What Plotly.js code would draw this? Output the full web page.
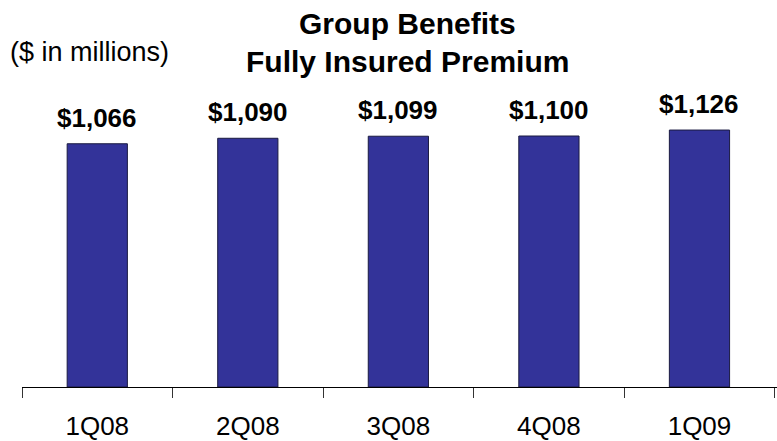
<!DOCTYPE html>
<html>
<head>
<meta charset="utf-8">
<script src="https://cdn.plot.ly/plotly-3.0.1.min.js"></script>
<style>html,body{margin:0;padding:0;background:#fff;}#chart{width:777px;height:441px;}</style>
</head>
<body>
<div id="chart"></div>
<script>
const categories = ["1Q08", "2Q08", "3Q08", "4Q08", "1Q09"];
const premium = [1066, 1090, 1099, 1100, 1126];
const valueLabels = ["$1,066", "$1,090", "$1,099", "$1,100", "$1,126"];
const titleLines = ["Group Benefits", "Fully Insured Premium"];
const unitNote = "($ in millions)";

const FONT = "Liberation Sans, Arial, sans-serif";

const trace = {
  type: "bar",
  x: categories,
  y: premium,
  width: 0.4,
  marker: { color: "#333399", line: { color: "#1a1a40", width: 1 } },
  hoverinfo: "none"
};

const annotations = categories.map((c, i) => ({
  x: c, y: premium[i], xref: "x", yref: "y",
  text: "<b>" + valueLabels[i] + "</b>", showarrow: false,
  yanchor: "bottom", yshift: 9,
  font: { family: FONT, size: 26, color: "#000" }
}));
annotations.push({
  xref: "paper", yref: "paper", x: -0.018, y: 0.866,
  xanchor: "left", yanchor: "middle", showarrow: false,
  text: unitNote,
  font: { family: FONT, size: 27, color: "#000" }
});
const titleY = [0.940, 0.842];
titleLines.forEach((t, i) => annotations.push({
  xref: "paper", yref: "paper", x: 0.51, y: titleY[i],
  xanchor: "center", yanchor: "middle", showarrow: false,
  text: "<b>" + t + "</b>",
  font: { family: FONT, size: 30, color: "#000" }
}));

const layout = {
  width: 777, height: 441,
  margin: { l: 22, r: 0, t: 0, b: 54 },
  paper_bgcolor: "#fff", plot_bgcolor: "#fff",
  showlegend: false,
  xaxis: {
    type: "category",
    range: [-0.5, 4.515],
    showline: true, linecolor: "#000", linewidth: 1,
    ticks: "outside", tickson: "boundaries", ticklen: 10, tickcolor: "#333", tickwidth: 1,
    ticklabelstandoff: 16,
    showgrid: false, zeroline: false,
    tickfont: { family: FONT, size: 26, color: "#000" }
  },
  yaxis: {
    range: [0, 1696],
    visible: false, showgrid: false, zeroline: false
  },
  annotations: annotations
};

Plotly.newPlot("chart", [trace], layout, { displayModeBar: false, staticPlot: true });
</script>
</body>
</html>
